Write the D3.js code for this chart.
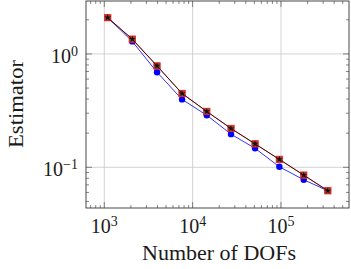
<!DOCTYPE html>
<html>
<head>
<meta charset="utf-8">
<script src="https://cdn.jsdelivr.net/npm/d3@7"></script>
<style>
  body { margin: 0; background: white; }
  text { font-family: "Liberation Serif", "DejaVu Serif", serif; fill: #1a1a1a; }
</style>
</head>
<body>
<div id="chart"></div>
<script>
const width = 351, height = 269;

// degrees of freedom per refinement step
const dofs = [1093, 2075, 3953, 7590, 14450, 27200, 50900, 95900, 181000, 339000];
// estimator values, one array per series
const estBlue = [2.09, 1.29, 0.690, 0.397, 0.288, 0.196, 0.147, 0.101, 0.0776, 0.0621];
const estRed = [2.09, 1.35, 0.784, 0.448, 0.311, 0.220, 0.161, 0.1174, 0.0853, 0.0621];
const estBlack = [2.09, 1.35, 0.784, 0.448, 0.311, 0.220, 0.161, 0.1174, 0.0853, 0.0621];
const xTicks = [1e3, 1e4, 1e5];
const yTicks = [0.1, 1];

const margin = { left: 86, right: 2, top: 1, bottom: 61 };
const iw = width - margin.left - margin.right;
const ih = height - margin.top - margin.bottom;

const svg = d3.select("#chart").append("svg")
    .attr("width", width)
    .attr("height", height);

const g = svg.append("g").attr("transform", `translate(${margin.left},${margin.top})`);

const x = d3.scaleLog().domain([Math.pow(10, 2.793), Math.pow(10, 5.77)]).range([0, iw]);
const y = d3.scaleLog().domain([Math.pow(10, -1.359), Math.pow(10, 0.467)]).range([ih, 0]);

// minor tick values (2..9 times each decade) inside the domain
function minorTicks(scale) {
    const [a, b] = scale.domain();
    const out = [];
    for (let e = Math.floor(Math.log10(a)); e <= Math.ceil(Math.log10(b)); e++) {
        for (let m = 2; m <= 9; m++) {
            const v = m * Math.pow(10, e);
            if (v >= a && v <= b) out.push(v);
        }
    }
    return out;
}

// major grid
g.selectAll(".gx").data(xTicks).enter().append("line")
    .attr("x1", d => x(d)).attr("x2", d => x(d))
    .attr("y1", 0).attr("y2", ih)
    .attr("stroke", "#c8c8c8").attr("stroke-width", 0.8);
g.selectAll(".gy").data(yTicks).enter().append("line")
    .attr("y1", d => y(d)).attr("y2", d => y(d))
    .attr("x1", 0).attr("x2", iw)
    .attr("stroke", "#c8c8c8").attr("stroke-width", 0.8);

// inward ticks on all four sides
const tickColor = "#555";
[[xTicks, 6], [minorTicks(x), 3]].forEach(([vals, len]) => {
    vals.forEach(v => {
        g.append("line").attr("x1", x(v)).attr("x2", x(v)).attr("y1", ih).attr("y2", ih - len)
            .attr("stroke", tickColor).attr("stroke-width", 0.7);
        g.append("line").attr("x1", x(v)).attr("x2", x(v)).attr("y1", 0).attr("y2", len)
            .attr("stroke", tickColor).attr("stroke-width", 0.7);
    });
});
[[yTicks, 6], [minorTicks(y), 3]].forEach(([vals, len]) => {
    vals.forEach(v => {
        g.append("line").attr("y1", y(v)).attr("y2", y(v)).attr("x1", 0).attr("x2", len)
            .attr("stroke", tickColor).attr("stroke-width", 0.7);
        g.append("line").attr("y1", y(v)).attr("y2", y(v)).attr("x1", iw).attr("x2", iw - len)
            .attr("stroke", tickColor).attr("stroke-width", 0.7);
    });
});

// frame
g.append("rect").attr("width", iw).attr("height", ih)
    .attr("fill", "none").attr("stroke", "#333").attr("stroke-width", 0.9);

// tick labels 10^k
function powLabel(sel, v) {
    const e = Math.round(Math.log10(v));
    sel.append("tspan").text("10");
    sel.append("tspan").attr("dy", -7).attr("font-size", 14).text(e < 0 ? "\u2212" + (-e) : e);
}
xTicks.forEach(v => {
    const t = g.append("text").attr("x", x(v)).attr("y", ih + 25)
        .attr("text-anchor", "middle").attr("font-size", 20);
    powLabel(t, v);
});
yTicks.forEach(v => {
    const t = g.append("text").attr("x", -8).attr("y", y(v) + 9)
        .attr("text-anchor", "end").attr("font-size", 20);
    powLabel(t, v);
});

// axis titles
svg.append("text").attr("x", 219).attr("y", 260)
    .attr("text-anchor", "middle").attr("font-size", 20)
    .attr("textLength", 154).attr("lengthAdjust", "spacingAndGlyphs")
    .text("Number of DOFs");
svg.append("text")
    .attr("transform", "translate(23,104) rotate(-90)")
    .attr("text-anchor", "middle").attr("font-size", 20)
    .attr("textLength", 88).attr("lengthAdjust", "spacingAndGlyphs")
    .text("Estimator");

const line = vals => d3.line().x((d, i) => x(dofs[i])).y(d => y(d))(vals);

// blue series with circles
g.append("path").attr("d", line(estBlue)).attr("fill", "none")
    .attr("stroke", "#0000ff").attr("stroke-width", 0.8);
g.selectAll(".cb").data(estBlue).enter().append("circle")
    .attr("cx", (d, i) => x(dofs[i])).attr("cy", d => y(d)).attr("r", 3.2)
    .attr("fill", "#0000ff");

// red series with squares
g.append("path").attr("d", line(estRed)).attr("fill", "none")
    .attr("stroke", "#e00000").attr("stroke-width", 0.8);
g.selectAll(".sq").data(estRed).enter().append("rect")
    .attr("x", (d, i) => x(dofs[i]) - 3.2).attr("y", d => y(d) - 3.2)
    .attr("width", 6.4).attr("height", 6.4)
    .attr("fill", "#9b4a2e").attr("stroke", "#ff1a1a").attr("stroke-width", 0.8);

// black series with stars
g.append("path").attr("d", line(estBlack)).attr("fill", "none")
    .attr("stroke", "#1a0000").attr("stroke-width", 0.8);
const star = d3.symbol().type(d3.symbolStar).size(14);
g.selectAll(".st").data(estBlack).enter().append("path")
    .attr("d", star)
    .attr("transform", (d, i) => `translate(${x(dofs[i])},${y(d)})`)
    .attr("fill", "#111");
</script>
</body>
</html>
